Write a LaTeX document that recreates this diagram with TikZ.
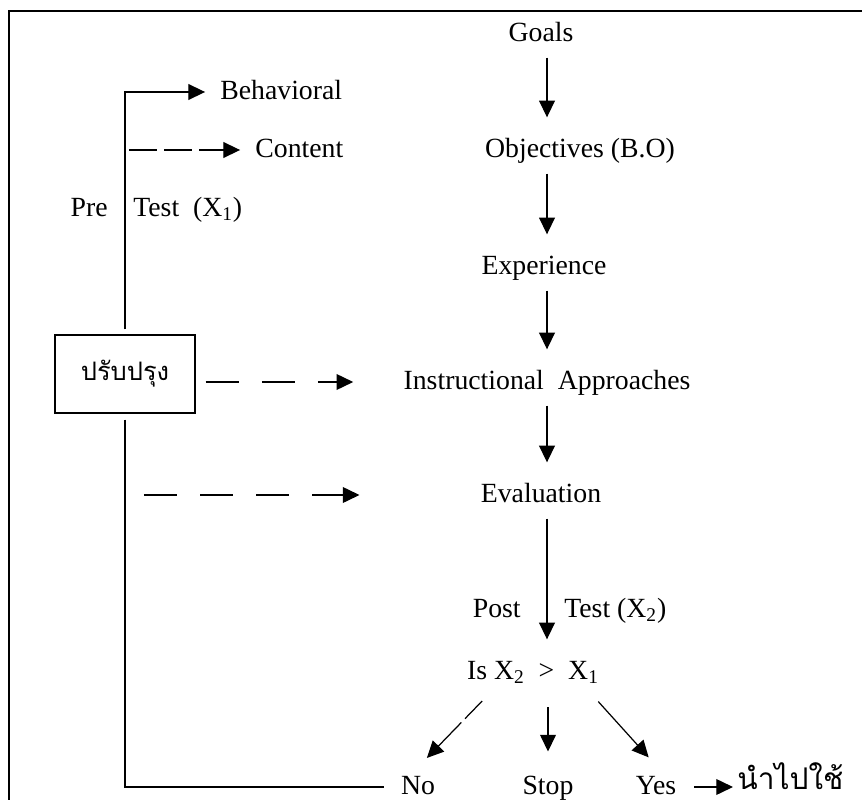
\documentclass[tikz,border=0pt]{standalone}
\usepackage{fontspec}
\setmainfont{Liberation Serif}
\newfontfamily\thaifont[Script=Thai]{Loma}
\usetikzlibrary{arrows.meta}

\begin{document}
\begin{tikzpicture}[
    x=0.02cm, y=-0.02cm,
    lbl/.style={inner sep=0pt, text height=11pt, text depth=3pt, font=\fontsize{15.8}{19}\selectfont},
    improvebox/.style={draw, line width=0.8pt, minimum width=2.8cm, minimum height=1.56cm, inner sep=0pt, font=\thaifont\fontsize{14.5}{17}\selectfont},
    applytext/.style={inner sep=0pt, font=\thaifont\fontsize{17}{20}\selectfont},
    arrow/.style={-{Triangle[length=9.5pt, width=9pt]}, line width=0.7pt},
    flow/.style={arrow, shorten <=6.3pt, shorten >=11.4pt},
    branch/.style={arrow, shorten <=13pt, shorten >=13pt},
    dasharrow/.style={arrow, dash pattern=on 18.8pt off 13.1pt},
    frame/.style={line width=1.1pt}
]
\useasboundingbox (0,0) rectangle (862,800);

% Frame (top and left only)
\draw[frame] (862,11) -| (9,800);

% Main flow
\coordinate (spine) at (547,0);
\node[lbl] (goals) at (541,34) {Goals};
\node[lbl] (objectives) at (580,150) {Objectives (B.O)};
\node[lbl] (experience) at (544,267) {Experience};
\node[lbl] (approaches) at (547,382) {Instructional\ \ Approaches};
\node[lbl] (evaluation) at (541,495) {Evaluation};
\node[lbl] (compare) at (533,672) {Is X\textsubscript{2}\ \ >\ \ X\textsubscript{1}};

\draw[flow] (goals.south -| spine) -- (objectives.north -| spine);
\draw[flow] (objectives.south -| spine) -- (experience.north -| spine);
\draw[flow] (experience.south -| spine) -- (approaches.north -| spine);
\draw[flow] (approaches.south -| spine) -- (evaluation.north -| spine);
\draw[flow] (evaluation.south -| spine) -- (compare.north -| spine);

% Post test labels
\node[lbl, anchor=east] (post) at (521,610) {Post};
\node[lbl, anchor=west] (posttest) at (564,610) {Test (X\textsubscript{2})};

% Outcomes
\node[lbl] (no) at (418,787) {No};
\node[lbl] (stop) at (548,787) {Stop};
\node[lbl] (yes) at (656,787) {Yes};
\node[applytext, anchor=west] (apply) at (737,776) {นำไปใช้};

\draw[branch, dash pattern=on 14pt off 3pt on 40pt off 1pt] ([xshift=-0.7cm]compare.south) -- ([xshift=-0.14cm]no.north);
\draw[branch] (compare.south -| stop) -- (stop.north);
\draw[branch] ([xshift=1cm]compare.south) -- ([xshift=0.16cm]yes.north);
\draw[arrow, shorten <=10.2pt, shorten >=2.3pt] (yes.east) -- (yes.east -| apply.west);

% Improvement loop (left)
\node[improvebox] (improve) at (125,374) {ปรับปรุง};
\node[lbl, anchor=west] (behavioral) at (220,92) {Behavioral};
\node[lbl, anchor=west] (content) at (255,150) {Content};
\node[lbl, anchor=east] (pre) at (108,209) {Pre};
\node[lbl, anchor=west] (pretest) at (133,209) {Test\ \ (X\textsubscript{1})};

\draw[arrow, shorten <=2.8pt, shorten >=8.5pt] (improve.north) |- (behavioral.west);
\draw[dasharrow, dash pattern=on 16pt off 4pt, shorten <=2.3pt, shorten >=8.5pt] (improve.north |- content) -- (content.west);
\draw[dasharrow, shorten <=5.7pt, shorten >=28.5pt] (improve.east |- approaches) -- (approaches.west);
\draw[dasharrow, shorten <=10.8pt, shorten >=68.9pt] (improve.south |- evaluation) -- (evaluation.west);
\draw[line width=0.7pt, shorten <=3.4pt, shorten >=9.7pt] (improve.south) |- (no.west);

\end{tikzpicture}
\end{document}
